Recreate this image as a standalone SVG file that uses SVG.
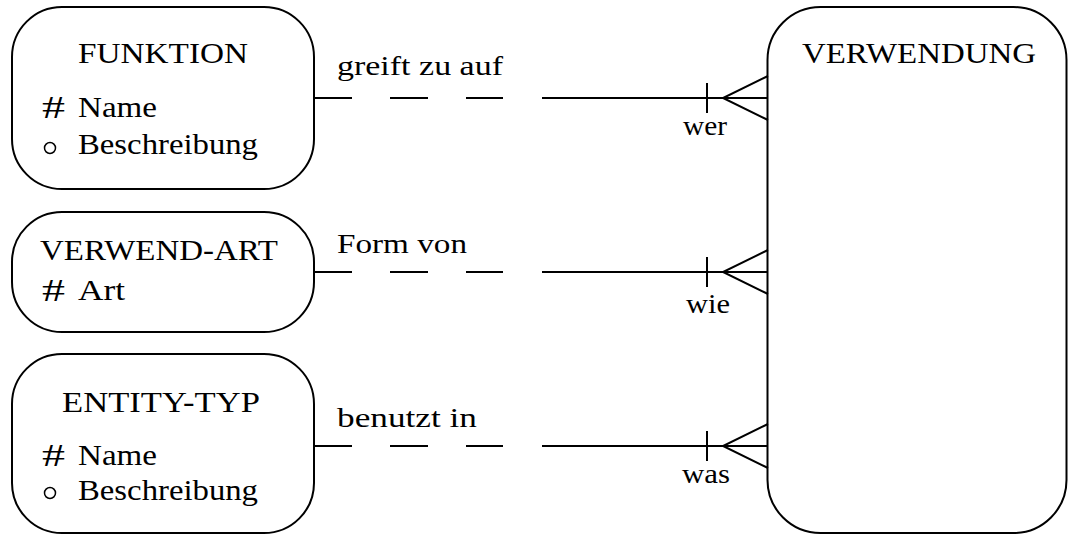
<svg xmlns="http://www.w3.org/2000/svg" width="1068" height="535" viewBox="0 0 1068 535" font-family="'Liberation Serif', serif">
  <style>
    .box { fill: #fff; stroke: #000; stroke-width: 2; }
    .ln { fill: none; stroke: #000; stroke-width: 2; }
    .bul { fill: none; stroke: #000; stroke-width: 1.5; }
    text { font-family: "Liberation Serif", "Times New Roman", serif; font-size: 29px; fill: #000; }
    .lbl { font-size: 28px; }
    .hash { font-size: 32px; }
  </style>
  <rect width="1068" height="535" fill="#fff"/>

  <!-- entity boxes -->
  <g id="funktion">
    <rect class="box" x="12" y="7" width="302" height="182" rx="50" ry="50"/>
    <text x="78" y="63" textLength="170" lengthAdjust="spacingAndGlyphs">FUNKTION</text>
    <text class="hash" x="42" y="118" textLength="23" lengthAdjust="spacingAndGlyphs">#</text>
    <text x="78" y="117" textLength="79" lengthAdjust="spacingAndGlyphs">Name</text>
    <circle class="bul" cx="50" cy="148" r="5.5"/>
    <text x="78" y="154" textLength="180" lengthAdjust="spacingAndGlyphs">Beschreibung</text>
  </g>

  <g id="verwend-art">
    <rect class="box" x="12" y="212" width="302" height="120" rx="50" ry="50"/>
    <text x="40" y="260" textLength="238" lengthAdjust="spacingAndGlyphs">VERWEND-ART</text>
    <text class="hash" x="42" y="301" textLength="23" lengthAdjust="spacingAndGlyphs">#</text>
    <text x="78" y="300" textLength="47" lengthAdjust="spacingAndGlyphs">Art</text>
  </g>

  <g id="entity-typ">
    <rect class="box" x="12" y="354" width="302" height="179" rx="50" ry="50"/>
    <text x="62" y="412" textLength="198" lengthAdjust="spacingAndGlyphs">ENTITY-TYP</text>
    <text class="hash" x="42" y="466" textLength="23" lengthAdjust="spacingAndGlyphs">#</text>
    <text x="78" y="465" textLength="79" lengthAdjust="spacingAndGlyphs">Name</text>
    <circle class="bul" cx="50" cy="493" r="5.5"/>
    <text x="78" y="500" textLength="180" lengthAdjust="spacingAndGlyphs">Beschreibung</text>
  </g>

  <g id="verwendung">
    <rect class="box" x="767.5" y="7" width="299" height="526" rx="53" ry="53"/>
    <text x="802" y="63" textLength="234" lengthAdjust="spacingAndGlyphs">VERWENDUNG</text>
  </g>

  <!-- relationships: optional (dashed) half, mandatory (solid) half, one-bar and crow's foot -->
  <g id="connectors">
    <g id="rel-funktion">
      <path class="ln" d="M314 98H352M390 98H428M466 98H503M542 98H768"/>
      <path class="ln" d="M707 83V113"/>
      <path class="ln" d="M768 76L723 98L768 120"/>
      <text class="lbl" x="337" y="75" textLength="166" lengthAdjust="spacingAndGlyphs">greift zu auf</text>
      <text class="lbl" x="683" y="135" textLength="44" lengthAdjust="spacingAndGlyphs">wer</text>
    </g>
    <g id="rel-verwend-art">
      <path class="ln" d="M314 272H352M390 272H428M466 272H503M542 272H768"/>
      <path class="ln" d="M707 257V287"/>
      <path class="ln" d="M768 250L723 272L768 294"/>
      <text class="lbl" x="337" y="253" textLength="130" lengthAdjust="spacingAndGlyphs">Form von</text>
      <text class="lbl" x="686" y="313" textLength="44" lengthAdjust="spacingAndGlyphs">wie</text>
    </g>
    <g id="rel-entity-typ">
      <path class="ln" d="M314 446H352M390 446H428M466 446H503M542 446H768"/>
      <path class="ln" d="M707 431V461"/>
      <path class="ln" d="M768 424L723 446L768 468"/>
      <text class="lbl" x="337" y="427" textLength="140" lengthAdjust="spacingAndGlyphs">benutzt in</text>
      <text class="lbl" x="682" y="483" textLength="48" lengthAdjust="spacingAndGlyphs">was</text>
    </g>
  </g>
</svg>
